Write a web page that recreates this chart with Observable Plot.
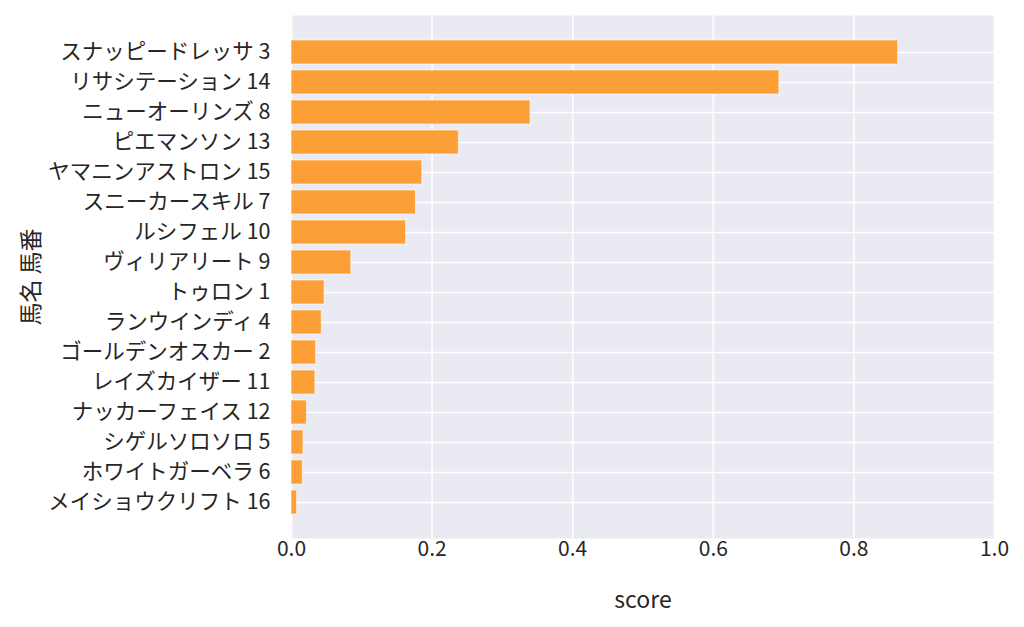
<!DOCTYPE html>
<html><head><meta charset="utf-8">
<script src="https://cdn.jsdelivr.net/npm/d3@7"></script>
<script src="https://cdn.jsdelivr.net/npm/@observablehq/plot@0.6"></script>
<style>
body{margin:0;background:#fff;}
svg{font-family:"Noto Sans CJK JP","Noto Sans",sans-serif;}
</style></head><body><div id="chart"></div>
<script>
const names = ["スナッピードレッサ 3","リサシテーション 14","ニューオーリンズ 8","ピエマンソン 13","ヤマニンアストロン 15","スニーカースキル 7","ルシフェル 10","ヴィリアリート 9","トゥロン 1","ランウインディ 4","ゴールデンオスカー 2","レイズカイザー 11","ナッカーフェイス 12","シゲルソロソロ 5","ホワイトガーベラ 6","メイショウクリフト 16"];
const scores = [0.863,0.694,0.340,0.238,0.186,0.177,0.163,0.085,0.047,0.043,0.035,0.034,0.022,0.017,0.016,0.008];
const xTicks = [0,0.2,0.4,0.6,0.8,1.0];
const data = names.map((n,i)=>({name:n, score:scores[i]}));
const chart = Plot.plot({
  width:1024, height:627,
  marginLeft:291, marginRight:30, marginTop:15, marginBottom:89,
  style:{fontFamily:'"Noto Sans CJK JP","Noto Sans",sans-serif', color:"#262626", background:"#fff"},
  x:{domain:[0,1]},
  y:{domain:names, paddingInner:0.2, paddingOuter:0.74},
  marks:[
    Plot.frame({fill:"#EAEAF2", stroke:null}),
    Plot.gridX(xTicks,{stroke:"#fff", strokeOpacity:1, strokeWidth:1.6}),
    Plot.gridY({stroke:"#fff", strokeOpacity:1, strokeWidth:1.6}),
    Plot.barX(data,{y:"name", x:"score", fill:"#FB9C30", fillOpacity:0.97, stroke:"#fff", strokeOpacity:0.6, strokeWidth:1}),
    Plot.axisX(xTicks,{tickSize:0, tickPadding:3, fontSize:21, tickFormat:d3.format(".1f"), label:"score", labelAnchor:"center", labelArrow:"none", labelOffset:69}),
    Plot.axisY({tickSize:0, tickPadding:21, fontSize:21.5, label:"馬名 馬番", labelAnchor:"center", labelArrow:"none", labelOffset:269})
  ]
});
chart.querySelectorAll('g[aria-label="x-axis label"] text, g[aria-label="y-axis label"] text').forEach(t=>t.setAttribute("font-size","23"));
document.getElementById("chart").appendChild(chart);
</script></body></html>
